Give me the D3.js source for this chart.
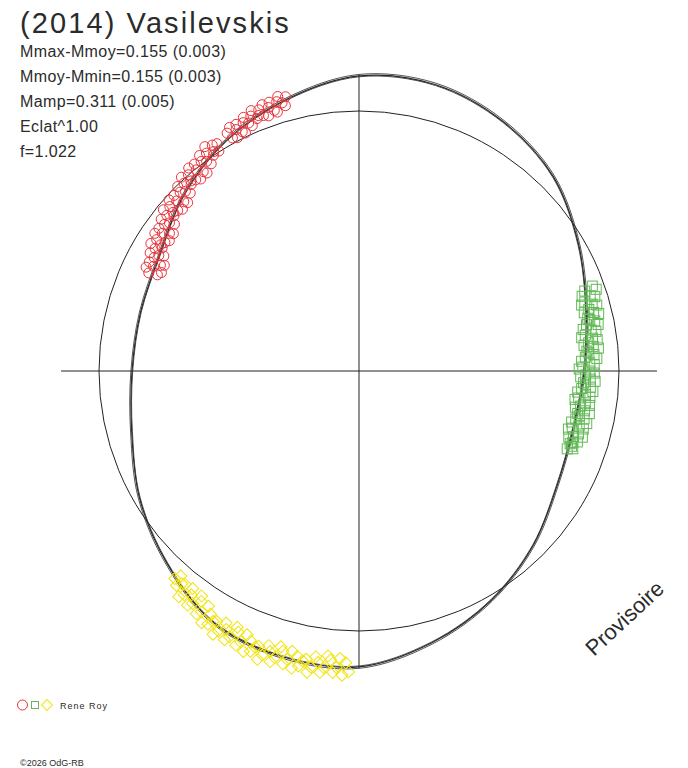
<!DOCTYPE html>
<html>
<head>
<meta charset="utf-8">
<script src="https://cdn.jsdelivr.net/npm/d3@7"></script>
<style>
  body { margin: 0; background: #fff; }
  svg { display: block; }
  text { font-family: "Liberation Sans", Arial, sans-serif; fill: #2b2b2b; }
</style>
</head>
<body>
<svg id="chart" width="688" height="768"></svg>
<script>
// rotation phase (deg, clockwise from top) and relative flux
const fitPhase = [0, 15, 30, 45, 60, 75, 90, 105, 120, 135, 150, 165,
                  180, 195, 210, 225, 240, 255, 270, 285, 300, 315, 330, 345];
const fitFlux = [1.135, 1.140, 1.108, 1.057, 0.975, 0.905, 0.866, 0.853, 0.880, 0.948, 1.018, 1.082,
                 1.138, 1.138, 1.118, 1.045, 0.975, 0.905, 0.873, 0.870, 0.887, 0.955, 1.023, 1.081];

// [phase, flux]
const redPoints = [
  [295.0,0.892],[295.5,0.859],[296.0,0.911],[296.5,0.849],[297.0,0.887],[297.5,0.909],[298.0,0.865],
  [298.5,0.852],[299.0,0.901],[299.5,0.923],[300.0,0.889],[300.5,0.871],[301.0,0.915],[301.5,0.939],
  [302.0,0.893],[302.5,0.904],[303.0,0.928],[303.5,0.895],[304.0,0.947],[304.5,0.885],[305.0,0.923],
  [305.5,0.945],[306.0,0.901],[306.5,0.888],[307.0,0.937],[307.5,0.959],[308.0,0.925],[308.5,0.907],
  [309.0,0.951],[309.5,0.975],[310.0,0.929],[310.5,0.940],[311.0,0.964],[311.5,0.931],[312.0,0.983],
  [312.5,0.921],[313.0,0.959],[313.5,0.981],[314.0,0.937],[314.5,0.924],[315.0,0.973],[315.5,0.995],
  [316.0,0.961],[316.5,0.943],[317.0,0.987],[317.5,1.011],[318.0,0.965],[318.5,0.976],[319.0,1.000],
  [319.5,0.967],[320.0,1.019],[320.5,0.957],[321.0,0.995],[321.5,1.017],[322.0,0.973],[322.5,0.960],
  [323.0,1.009],[323.5,1.031],[324.0,0.997],[324.5,0.979],[325.0,1.023],[325.5,1.047],[326.0,1.001],
  [326.5,1.012],[327.0,1.036],[327.5,1.003],[328.0,1.031],
  [331.0,1.046],[331.5,1.020],[332.0,1.061],[332.5,1.012],[333.0,1.042],[333.5,1.060],[334.0,1.024],
  [334.5,1.014],[335.0,1.054],[335.5,1.072],[336.0,1.044],[336.5,1.029],[337.0,1.065],[337.5,1.084],
  [338.0,1.047],[338.5,1.056],[339.0,1.076],[339.5,1.049],[340.0,1.090],[340.5,1.041],[341.0,1.072],
  [341.5,1.090],[342.0,1.054],[342.5,1.044],[343.0,1.083],[343.5,1.101],[344.0,1.073],[344.5,1.059],
  [345.0,1.092]
];

const greenPoints = [
  [70.0,0.955],[70.5,0.921],[71.0,0.965],[71.5,0.905],[72.0,0.935],[72.5,0.951],[73.0,0.908],
  [73.5,0.893],[74.0,0.933],[74.5,0.949],[75.0,0.915],[75.5,0.895],[76.0,0.930],[76.5,0.948],
  [77.0,0.903],[77.5,0.909],[78.0,0.927],[78.5,0.893],[79.0,0.937],[79.5,0.877],[80.0,0.907],
  [80.5,0.924],[81.0,0.881],[81.5,0.866],[82.0,0.907],[82.5,0.924],[83.0,0.890],[83.5,0.871],
  [84.0,0.906],[84.5,0.925],[85.0,0.880],[85.5,0.887],[86.0,0.906],[86.5,0.872],[87.0,0.916],
  [87.5,0.857],[88.0,0.888],[88.5,0.905],[89.0,0.861],[89.5,0.847],[90.0,0.888],[90.5,0.905],
  [91.0,0.872],[91.5,0.853],[92.0,0.890],[92.5,0.909],[93.0,0.865],[93.5,0.872],[94.0,0.892],
  [94.5,0.859],[95.0,0.903],[95.5,0.845],[96.0,0.876],[96.5,0.894],[97.0,0.851],[97.5,0.838],
  [98.0,0.879],[98.5,0.896],[99.0,0.863],[99.5,0.844],[100.0,0.881],[100.5,0.901],[101.0,0.857],
  [101.5,0.865],[102.0,0.885],[102.5,0.854],[103.0,0.899],[103.5,0.841],[104.0,0.873],[104.5,0.891],
  [105.0,0.849],[105.5,0.836],[106.0,0.878],[106.5,0.896],[107.0,0.863],[107.5,0.846],[108.0,0.883],
  [108.5,0.867],[109.0,0.859],[109.5,0.867],[110.0,0.875],[110.5,0.855]
];

const yellowPoints = [
  [182.0,1.158],[182.6,1.123],[183.2,1.172],[183.8,1.108],[184.4,1.144],[185.0,1.164],[185.6,1.117],
  [186.2,1.102],[186.8,1.149],[187.4,1.169],[188.0,1.132],[188.6,1.112],[189.2,1.154],[189.8,1.176],
  [190.4,1.127],[191.0,1.136],[191.6,1.158],[192.2,1.123],[192.8,1.172],[193.4,1.108],[194.0,1.144],
  [194.6,1.164],[195.2,1.117],[195.8,1.102],[196.4,1.149],[197.0,1.169],[197.6,1.132],[198.2,1.112],
  [198.8,1.154],[199.4,1.176],[200.0,1.127],[200.6,1.135],[201.2,1.156],[201.8,1.119],[202.4,1.167],
  [203.0,1.102],[203.6,1.137],[204.2,1.156],[204.8,1.107],[205.4,1.091],[206.0,1.137],[206.6,1.156],
  [207.2,1.118],[207.8,1.096],[208.4,1.137],[209.0,1.158],[209.6,1.108],[210.2,1.115],[210.8,1.134],
  [211.4,1.096],[212.0,1.142],[212.6,1.074],[213.2,1.107],[213.8,1.124],[214.4,1.074],[215.0,1.056],
  [215.6,1.100],[216.2,1.116],[216.8,1.076],[217.4,1.053],[218.0,1.092],[218.6,1.111],[219.2,1.059],
  [219.8,1.065],[220.4,1.083],[221.0,1.045],[221.6,1.067]
];

const title = '(2014) Vasilevskis';
const infoLines = ['Mmax-Mmoy=0.155 (0.003)', 'Mmoy-Mmin=0.155 (0.003)', 'Mamp=0.311 (0.005)',
                   'Eclat^1.00', 'f=1.022'];
const observer = 'Rene Roy';
const credit = '\u00A92026 OdG-RB';
const stamp = 'Provisoire';

const svg = d3.select('#chart');
const cx = 359, cy = 371;
const rScale = d3.scaleLinear().domain([0, 1]).range([0, 260]);
const toRad = (deg) => deg * Math.PI / 180;

const plot = svg.append('g').attr('transform', `translate(${cx},${cy})`);

// axes
const axisLen = rScale(1.146);
plot.append('line').attr('x1', -axisLen).attr('x2', axisLen).attr('y1', 0).attr('y2', 0)
    .attr('stroke', '#222').attr('stroke-width', 1);
plot.append('line').attr('x1', 0).attr('x2', 0).attr('y1', -rScale(1.139)).attr('y2', rScale(1.142))
    .attr('stroke', '#222').attr('stroke-width', 1);

// unit circle
plot.append('circle').attr('r', rScale(1)).attr('fill', 'none')
    .attr('stroke', '#222').attr('stroke-width', 1);

// fitted light curve (a few close strands, like the original)
const fitData = fitPhase.map((p, i) => ({ phase: p, flux: fitFlux[i] }));
[[0.997, 0.8], [1, 1.2], [1.005, 0.8]].forEach(([k, w]) => {
  const line = d3.lineRadial()
      .angle((d) => toRad(d.phase))
      .radius((d) => rScale(d.flux * k))
      .curve(d3.curveCatmullRomClosed.alpha(0.5));
  plot.append('path').datum(fitData).attr('d', line)
      .attr('fill', 'none').attr('stroke', '#2a2a2a').attr('stroke-width', w);
});

const pos = (d) => d3.pointRadial(toRad(d[0]), rScale(d[1]));

plot.append('g').selectAll('circle')
    .data(redPoints)
    .enter()
    .append('circle')
    .attr('cx', (d) => pos(d)[0])
    .attr('cy', (d) => pos(d)[1])
    .attr('r', 5)
    .attr('fill', 'none')
    .attr('stroke', '#e8343c')
    .attr('stroke-width', 1);

plot.append('g').selectAll('rect')
    .data(greenPoints)
    .enter()
    .append('rect')
    .attr('x', (d) => pos(d)[0] - 5)
    .attr('y', (d) => pos(d)[1] - 5)
    .attr('width', 10)
    .attr('height', 10)
    .attr('fill', 'none')
    .attr('stroke', '#62b956')
    .attr('stroke-width', 1);

const diamond = d3.symbol().type(d3.symbolSquare).size(72);
plot.append('g').selectAll('path')
    .data(yellowPoints)
    .enter()
    .append('path')
    .attr('d', diamond)
    .attr('transform', (d) => `translate(${pos(d)[0]},${pos(d)[1]}) rotate(45)`)
    .attr('fill', 'none')
    .attr('stroke', '#f2e40c')
    .attr('stroke-width', 1);

// texts
svg.append('text').attr('x', 20).attr('y', 33)
    .style('font-size', '29px').style('letter-spacing', '2.1px').text(title);

svg.append('g').selectAll('text')
    .data(infoLines)
    .enter()
    .append('text')
    .attr('x', 20)
    .attr('y', (d, i) => 57 + i * 25)
    .style('font-size', '16px')
    .style('letter-spacing', '0.4px')
    .text((d) => d);

svg.append('text')
    .attr('transform', 'translate(594,657) rotate(-43)')
    .style('font-size', '22px')
    .text(stamp);

// legend
svg.append('circle').attr('cx', 22.5).attr('cy', 705).attr('r', 5)
    .attr('fill', 'none').attr('stroke', '#e8343c');
svg.append('rect').attr('x', 31.5).attr('y', 701.5).attr('width', 7).attr('height', 7)
    .attr('fill', 'none').attr('stroke', '#62b956');
svg.append('path').attr('d', d3.symbol().type(d3.symbolSquare).size(60))
    .attr('transform', 'translate(47,705) rotate(45)')
    .attr('fill', 'none').attr('stroke', '#f2e40c');
svg.append('text').attr('x', 60).attr('y', 709)
    .style('font-size', '9px').style('letter-spacing', '1px').text(observer);

svg.append('text').attr('x', 20).attr('y', 766)
    .style('font-size', '9px').text(credit);
</script>
</body>
</html>
